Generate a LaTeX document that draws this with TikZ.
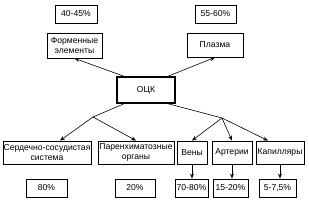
\documentclass[tikz,border=0pt]{standalone}
\usepackage{fontspec}
\setmainfont{Liberation Sans}
\usetikzlibrary{arrows.meta}
\begin{document}
\begin{tikzpicture}[x=1pt,y=-1pt,
  box/.style={draw,line width=0.8pt,inner sep=0pt,align=center,font=\fontsize{8.6}{10}\selectfont},
  conn/.style={line width=0.6pt},
  arr/.style={line width=0.6pt,-{Stealth[length=5pt,width=4pt]}}]
\useasboundingbox (0,0) rectangle (309,200);
\node[box,minimum width=42pt,minimum height=18pt] (p1) at (76,14) {40-45\%};
\node[box,minimum width=41pt,minimum height=18pt] (p2) at (215.5,14) {55-60\%};
\node[box,minimum width=55pt,minimum height=25pt] (fe) at (74.5,45.5) {Форменные\\элементы};
\node[box,minimum width=56pt,minimum height=24pt] (pl) at (215,45) {Плазма};
\node[box,line width=1.2pt,minimum width=58pt,minimum height=26pt] (ock) at (146,90) {ОЦК};
\node[box,minimum width=88pt,minimum height=23pt] (ss) at (47,152.5) {Сердечно-сосудистая\\система};
\node[box,minimum width=76pt,minimum height=23pt] (po) at (136,152.5) {Паренхиматозные\\органы};
\node[box,minimum width=30pt,minimum height=23pt] (ve) at (192,152.5) {Вены};
\node[box,minimum width=40pt,minimum height=23pt] (ar) at (232,152.5) {Артерии};
\node[box,minimum width=48pt,minimum height=23pt] (ka) at (280,152.5) {Капилляры};
\node[box,minimum width=41pt,minimum height=18pt] (s1) at (46.5,188) {80\%};
\node[box,minimum width=40pt,minimum height=18pt] (s2) at (135,188) {20\%};
\node[box,minimum width=33pt,minimum height=18pt] (v1) at (191.5,188) {70-80\%};
\node[box,minimum width=35pt,minimum height=18pt] (a1) at (230.5,188) {15-20\%};
\node[box,minimum width=37pt,minimum height=18pt] (k1) at (277.5,188) {5-7,5\%};
\coordinate (jl) at (93,117);
\coordinate (jr) at (222,118);
\draw[arr] ([xshift=8pt]ock.north west) -- (fe.south);
\draw[arr] ([xshift=-8pt]ock.north east) -- (pl.south);
\draw[conn] ([xshift=8pt]ock.south west) -- (jl);
\draw[conn] ([xshift=-8pt]ock.south east) -- (jr);
\draw[arr] (jl) -- ([xshift=13pt]ss.north);
\draw[arr] (jl) -- (po.north);
\draw[arr] (jr) -- (ve.north);
\draw[arr] (jr) -- (ar.north);
\draw[arr] (jr) -- ([xshift=-12pt]ka.north);
\draw[arr] (ve.south) -- (ve.south |- v1.north);
\draw[arr] (ar.south) -- (ar.south |- a1.north);
\draw[arr] (ka.south) -- (ka.south |- k1.north);
\end{tikzpicture}
\end{document}
